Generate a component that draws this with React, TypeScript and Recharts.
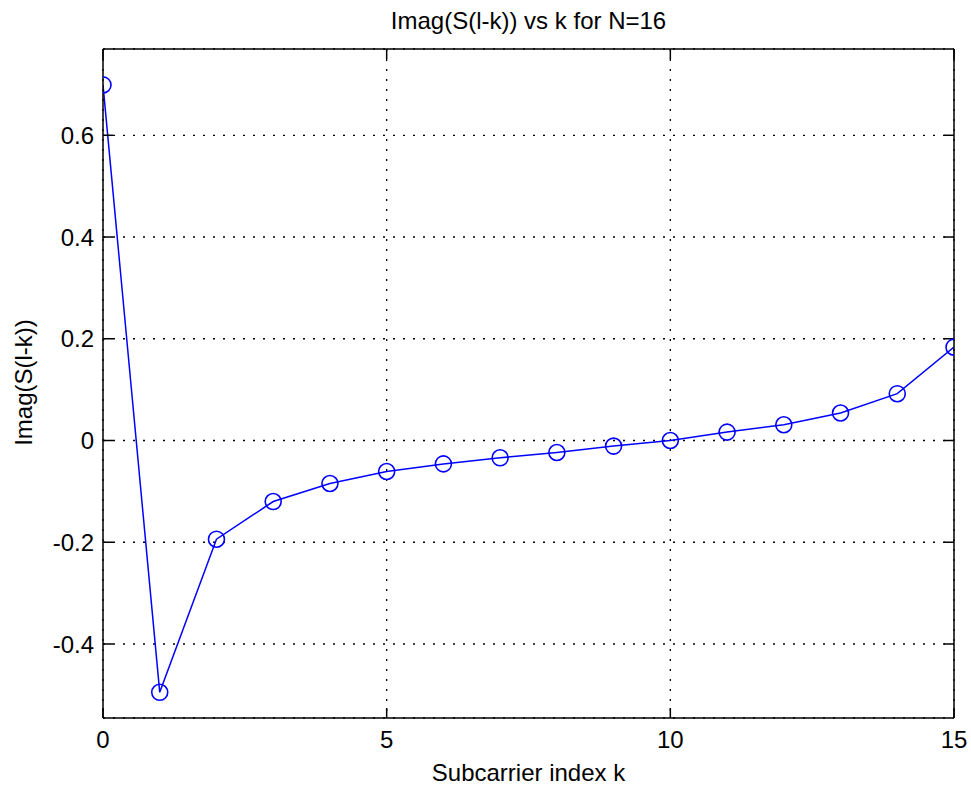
import { LineChart, Line, XAxis, YAxis, CartesianGrid } from 'recharts';

// subcarrier index and imaginary part of S(l-k), N = 16
const subcarriers = [0, 1, 2, 3, 4, 5, 6, 7, 8, 9, 10, 11, 12, 13, 14, 15];
const imagValues = [
  0.699, -0.495, -0.194, -0.12, -0.0845, -0.061, -0.046, -0.034, -0.0236, -0.011, 0, 0.0165, 0.031,
  0.054, 0.092, 0.1835,
];

const xTicks = [0, 5, 10, 15];
const yTicks = [-0.4, -0.2, 0, 0.2, 0.4, 0.6];
const yDomain: [number, number] = [-0.5455, 0.7696];

const FONT = '"Liberation Sans", Arial, sans-serif';
const BLUE = '#0000ff';

const data = subcarriers.map((k, i) => ({ k, imag: imagValues[i] }));

const emptyTick = () => <g />;

export default function App() {
  return (
    <div style={{ position: 'absolute', left: 0, top: 0, width: 971, height: 789, background: '#fff' }}>
      <LineChart
        width={971}
        height={789}
        data={data}
        margin={{ top: 48, right: 16, bottom: 31, left: 43 }}
        style={{ fontFamily: FONT }}
      >
        <CartesianGrid stroke="#000" strokeWidth={1.3} strokeDasharray="2 8" />
        <XAxis
          dataKey="k"
          type="number"
          domain={[0, 15]}
          ticks={xTicks}
          allowDataOverflow
          height={40}
          tickSize={-10}
          tickMargin={23}
          stroke="#000"
          strokeWidth={1.5}
          tick={{ fill: '#000', fontSize: 24 }}
          label={{
            content: ({ viewBox }: any) => (
              <text
                x={viewBox.x + viewBox.width / 2}
                y={781}
                textAnchor="middle"
                fontSize={24}
                fill="#000"
              >
                Subcarrier index k
              </text>
            ),
          }}
        />
        {/* top edge of the box, ticks only */}
        <XAxis
          xAxisId="top"
          orientation="top"
          type="number"
          domain={[0, 15]}
          ticks={xTicks}
          allowDataOverflow
          height={1}
          tickSize={-10}
          stroke="#000"
          strokeWidth={1.5}
          tick={emptyTick}
          label={{
            content: ({ viewBox }: any) => (
              <text
                x={viewBox.x + viewBox.width / 2}
                y={29}
                textAnchor="middle"
                fontSize={24}
                fill="#000"
              >
                Imag(S(l-k)) vs k for N=16
              </text>
            ),
          }}
        />
        <YAxis
          type="number"
          domain={yDomain}
          ticks={yTicks}
          allowDataOverflow
          width={60}
          tickSize={-10}
          tickMargin={19}
          stroke="#000"
          strokeWidth={1.5}
          tick={{ fill: '#000', fontSize: 24 }}
          label={{
            content: ({ viewBox }: any) => {
              const cy = viewBox.y + viewBox.height / 2 - 1;
              return (
                <text
                  x={32}
                  y={cy}
                  transform={`rotate(-90, 32, ${cy})`}
                  textAnchor="middle"
                  fontSize={24}
                  fill="#000"
                >
                  Imag(S(l-k))
                </text>
              );
            },
          }}
        />
        {/* right edge of the box */}
        <YAxis
          yAxisId="right"
          orientation="right"
          type="number"
          domain={yDomain}
          ticks={yTicks}
          allowDataOverflow
          width={1}
          tickSize={-10}
          stroke="#000"
          strokeWidth={1.5}
          tick={emptyTick}
        />
        <Line
          type="linear"
          dataKey="imag"
          stroke={BLUE}
          strokeWidth={1.5}
          dot={{ r: 8, fill: 'none', stroke: BLUE, strokeWidth: 1.6 }}
          activeDot={false}
          isAnimationActive={false}
        />
      </LineChart>
    </div>
  );
}
